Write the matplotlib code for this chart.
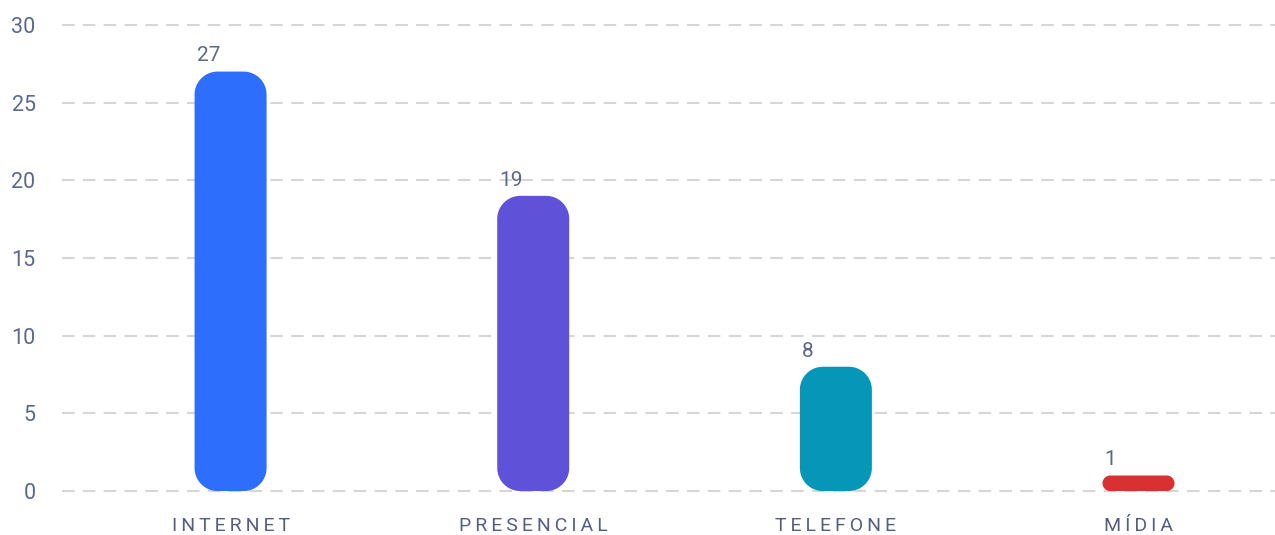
import matplotlib
matplotlib.use("Agg")
import matplotlib.pyplot as plt
import numpy as np
from matplotlib.patches import Polygon

categories = ["INTERNET", "PRESENCIAL", "TELEFONE", "MÍDIA"]
values = [27, 19, 8, 1]
colors = ["#2D6EFD", "#5F52D9", "#0596B8", "#D93131"]
yticks = [0, 5, 10, 15, 20, 25, 30]

TEXT = "#5A688D"
W, H, DPI = 1275, 535, 100

plt.rcParams["font.family"] = ["Roboto", "DejaVu Sans"]

fig = plt.figure(figsize=(W / DPI, H / DPI), dpi=DPI)
left_px, right_px = 62, 1275
top_px, bot_px = 20.3, 495.7
ax = fig.add_axes([left_px / W, 1 - bot_px / H, (right_px - left_px) / W, (bot_px - top_px) / H])

xlim = (-0.557, 3.451)
ylim = (-0.3, 30.3)
ax.set_xlim(*xlim)
ax.set_ylim(*ylim)

# data units per pixel on each axis, so the rounded corners stay circular
xpp = (xlim[1] - xlim[0]) / (right_px - left_px)
ypp = (ylim[1] - ylim[0]) / (bot_px - top_px)


def rounded_bar(xc, width, height, r_px):
    rx, ry = r_px * xpp, r_px * ypp
    x0, x1 = xc - width / 2, xc + width / 2
    t = np.linspace(0, np.pi / 2, 20)
    pts = []
    # top right, top left, bottom left, bottom right corners
    for cx, cy, a0 in [(x1 - rx, height - ry, 0), (x0 + rx, height - ry, np.pi / 2),
                       (x0 + rx, ry, np.pi), (x1 - rx, ry, 1.5 * np.pi)]:
        a = a0 + t
        pts.extend(zip(cx + rx * np.cos(a), cy + ry * np.sin(a)))
    return np.array(pts)


for y in yticks:
    ax.axhline(y, color="#D6D6D6", lw=1.5, dashes=(6, 4), zorder=0)

bar_w = 72 * xpp
for i, (v, c) in enumerate(zip(values, colors)):
    h_px = v / ypp
    r = min(23, h_px / 2)
    ax.add_patch(Polygon(rounded_bar(i, bar_w, v, r), closed=True, fc=c, ec="none", zorder=2))
    ax.annotate(str(v), (i - bar_w / 2, v), xytext=(1.5, 4.5), textcoords="offset points",
                ha="left", va="bottom", fontsize=15, color=TEXT)

# widen letter spacing of the category labels
spaced = ["\u2009".join(c) for c in categories]
ax.set_xticks(range(len(categories)))
ax.set_xticklabels(spaced, fontsize=14, color="#525F85")
ax.set_yticks(yticks)
ax.set_yticklabels([str(t) for t in yticks], fontsize=15.5, color=TEXT)
ax.tick_params(axis="x", length=0, pad=15.5)
ax.tick_params(axis="y", length=0, pad=19)
for s in ax.spines.values():
    s.set_visible(False)

fig.savefig("out.png", dpi=DPI)
